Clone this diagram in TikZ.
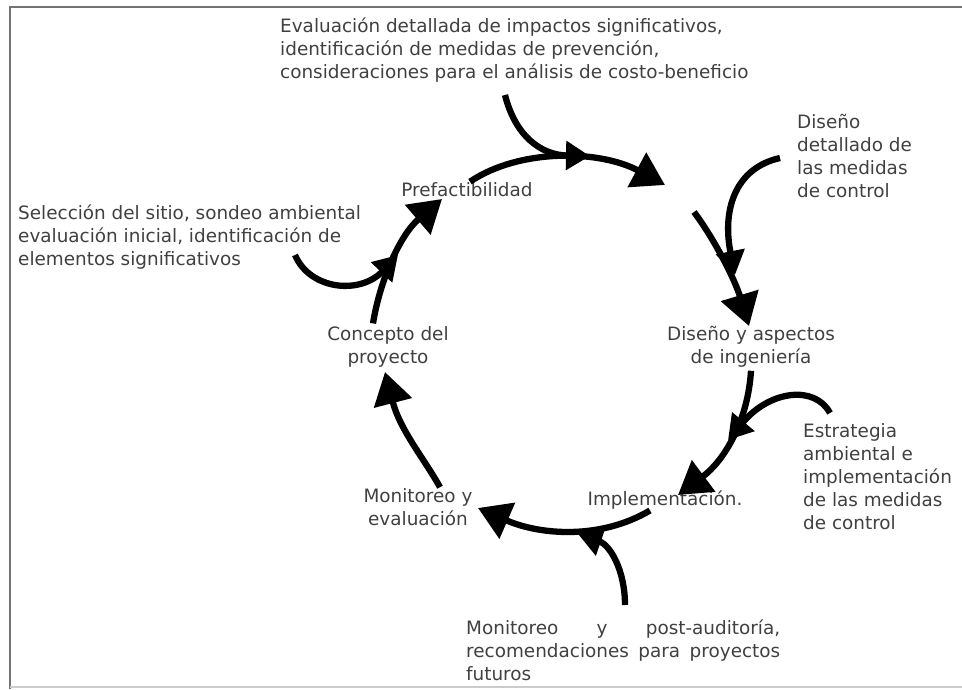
\documentclass[tikz,border=0pt]{standalone}
\usepackage{fontspec}
\setmainfont{DejaVu Sans}
\usetikzlibrary{arrows.meta}

\begin{document}
\begin{tikzpicture}[x=1pt, y=-1pt,
  stage/.style={align=center, font=\fontsize{18.4}{23}\selectfont, text=black!75, inner sep=1pt},
  note/.style={align=left, font=\fontsize{18.4}{23}\selectfont, text=black!75, inner sep=0pt, anchor=base west},
  cyc/.style={-{Triangle[length=32pt, width=38pt]}, line width=6.3pt},
  ann/.style={-{Triangle[length=24pt, width=28pt]}, line width=6.3pt}
]
\useasboundingbox (0,0) rectangle (962,689);
% frame
\draw[black!55, line width=2.5pt] (10,689) -- (10,7) -- (962,7);
\draw[black!20, line width=1.5pt] (10,687) -- (962,687);

% stages of the cycle
\node[stage] (pre) at (467,190) {Prefactibilidad};
\node[stage] (dis) at (751,347) {Diseño y aspectos\\de ingeniería};
\node[stage] (imp) at (665,500) {Implementación.};
\node[stage] (mon) at (418,507) {Monitoreo y\\evaluación};
\node[stage] (con) at (388,347) {Concepto del\\proyecto};

% notes (base = last line)
\node[note] (nevl) at (280,78) {Evaluación detallada de impactos significativos,\\identificación de medidas de prevención,\\consideraciones para el análisis de costo-beneficio};
\node[note] (nsel) at (18,265) {Selección del sitio, sondeo ambiental\\evaluación inicial, identificación de\\elementos significativos};
\node[note] (ndet) at (797,197) {Diseño\\detallado de\\las medidas\\de control};
\node[note] (nest) at (803,529) {Estrategia\\ambiental e\\implementación\\de las medidas\\de control};
\node[note, text width=314pt, align=justify] (npost) at (466,634) {Monitoreo y post-auditoría,\linebreak recomendaciones para proyectos\linebreak futuros};

% junction points
\coordinate (j1) at (665,185);
\coordinate (j2) at (749,326);
\coordinate (j3) at (678,495);
\coordinate (j4) at (478,508);
\coordinate (j5) at (385,372);
\coordinate (j6) at (442,199);

% cycle
\draw[cyc] ([xshift=3pt]pre.north) .. controls (520,148) and (600,150) .. (j1);
\draw[cyc] (694,212) .. controls (715,240) and (735,280) .. (j2);
\draw[cyc] ([yshift=-2pt]dis.south) .. controls (748,420) and (725,460) .. (j3);
\draw[cyc] ([xshift=-15pt]imp.south) .. controls (600,540) and (540,535) .. (j4);
\draw[cyc] ([xshift=22pt]mon.north) .. controls (425,460) and (400,430) .. (j5);
\draw[cyc] ([xshift=-15pt,yshift=2pt]con.north) .. controls (380,280) and (400,235) .. (j6);

% notes feeding in
\draw[ann] (505,95) .. controls (515,135) and (540,155) .. (590,156);
\draw[ann] (780,158) .. controls (735,168) and (722,210) .. (735,275);
\draw[ann] (830,413) .. controls (815,385) and (770,390) .. (728,440);
\draw[ann] (625,605) .. controls (625,570) and (610,545) .. (578,534);
\draw[ann] (295,255) .. controls (310,290) and (360,295) .. (398,255);
\end{tikzpicture}
\end{document}
